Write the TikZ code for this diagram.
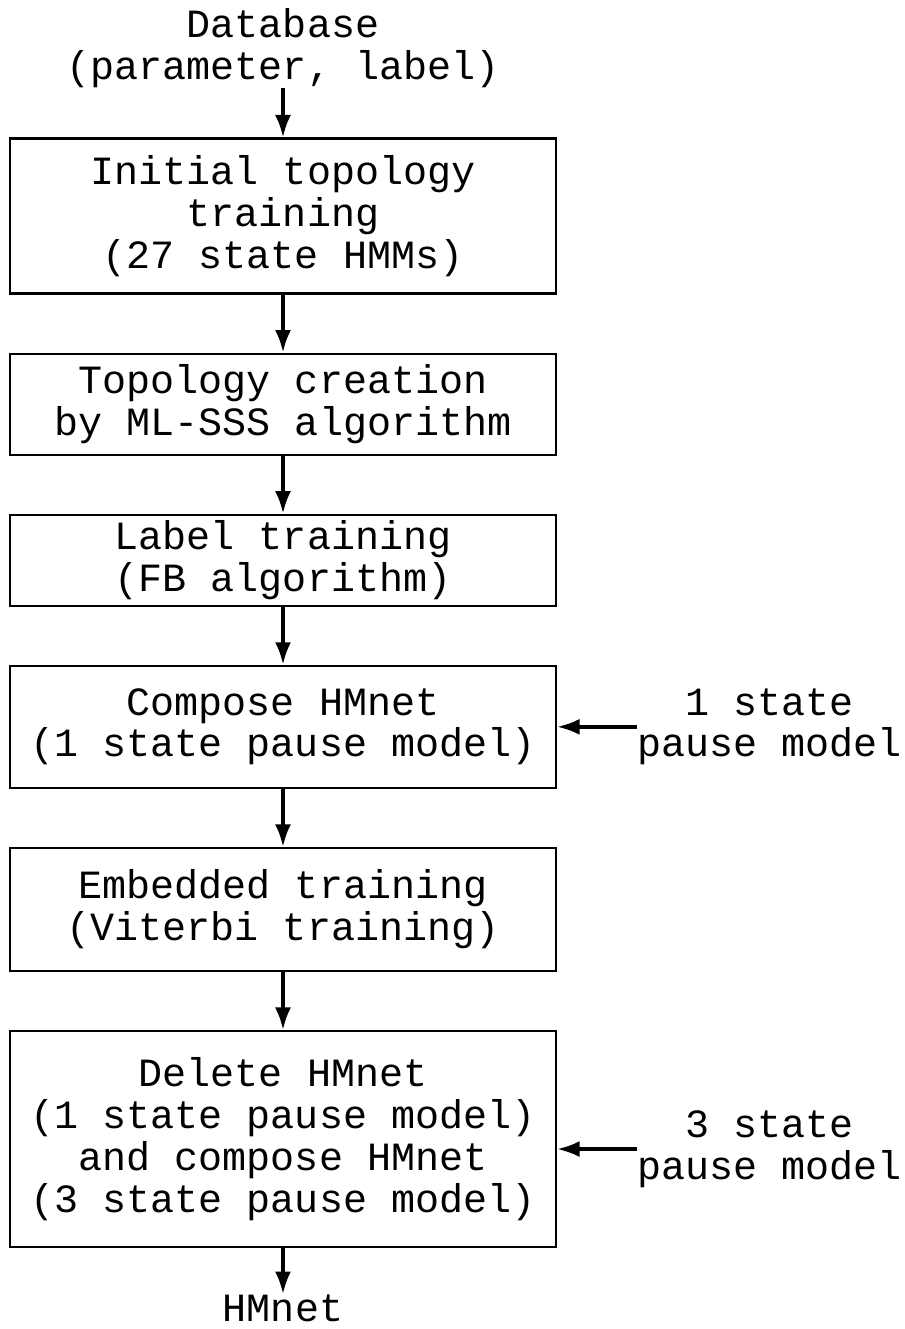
\documentclass[tikz,border=0pt]{standalone}
\usepackage{fontspec}
\setmainfont{Liberation Mono}
\usetikzlibrary{positioning,arrows.meta}

\begin{document}
\begin{tikzpicture}[
node distance=1.16cm,
every node/.style={align=center,font=\fontsize{22.8}{23.8}\selectfont},
stage/.style={draw,line width=1.2pt,minimum width=10.92cm,inner sep=0pt},
>={Latex[length=0.45cm,width=0.32cm]}]
\useasboundingbox (0,0) rectangle (18.1,-26.58);
\node[inner sep=0pt] (db) at (5.66,-0.97) {Database\\(parameter, label)};
\node[stage,minimum height=3.1cm] (init) [below=0.98cm of db] {Initial topology\\training\\(27 state HMMs)};
\node[stage,minimum height=2.02cm] (topo) [below=of init] {Topology creation\\by ML-SSS algorithm};
\node[stage,minimum height=1.82cm] (label) [below=of topo] {Label training\\(FB algorithm)};
\node[stage,minimum height=2.44cm] (comp) [below=of label] {Compose HMnet\\(1 state pause model)};
\node[stage,minimum height=2.46cm] (embed) [below=of comp] {Embedded training\\(Viterbi training)};
\node[stage,minimum height=4.32cm] (del) [below=of embed] {Delete HMnet\\(1 state pause model)\\and compose HMnet\\(3 state pause model)};
\node[inner sep=0pt] (out) [below=0.92cm of del] {HMnet};
\node[inner sep=0pt] (pause1) [right=1.6cm of comp] {1 state\\pause model};
\node[inner sep=0pt] (pause3) [right=1.6cm of del,yshift=-0.2cm] {3 state\\pause model};
\draw[->,line width=2pt] (db) -- (init);
\draw[->,line width=2pt] (init) -- (topo);
\draw[->,line width=2pt] (topo) -- (label);
\draw[->,line width=2pt] (label) -- (comp);
\draw[->,line width=2pt] (comp) -- (embed);
\draw[->,line width=2pt] (embed) -- (del);
\draw[->,line width=2pt] (del) -- (out);
\draw[->,line width=2pt] (pause1.west) -- (pause1.west -| comp.east);
\draw[->,line width=2pt] (pause3.west) -- (pause3.west -| del.east);
\end{tikzpicture}
\end{document}
